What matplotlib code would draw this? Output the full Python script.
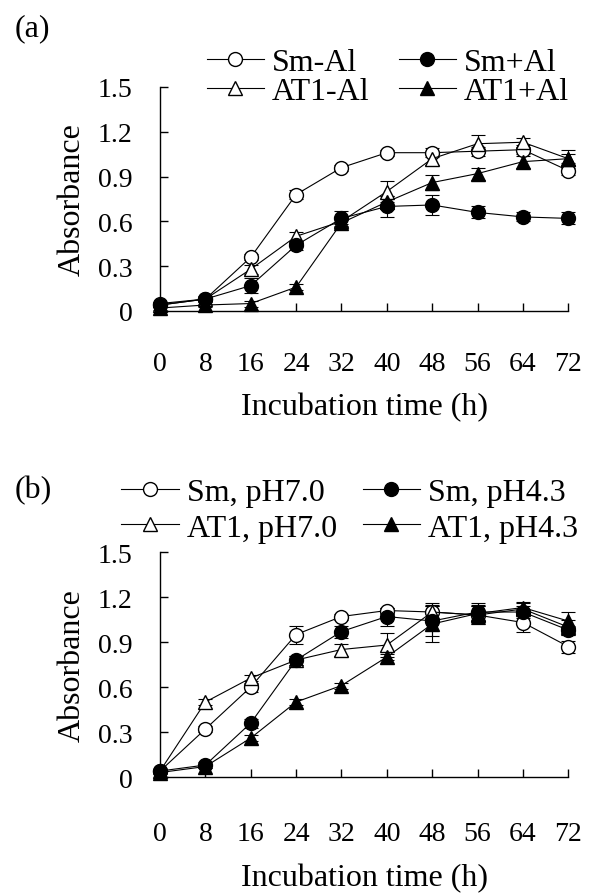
import matplotlib
matplotlib.use("Agg")
import matplotlib.pyplot as plt

plt.rcParams['font.family'] = ['Liberation Serif', 'DejaVu Serif']
plt.rcParams['font.size'] = 23

t = [0, 8, 16, 24, 32, 40, 48, 56, 64, 72]

# panel (a)
sm_noal = [0.05, 0.08, 0.36, 0.78, 0.96, 1.06, 1.06, 1.07, 1.08, 0.94]
sm_noal_e = [0.01, 0.01, 0.02, 0.03, 0.02, 0.02, 0.03, 0.03, 0.03, 0.03]
sm_al = [0.04, 0.08, 0.17, 0.44, 0.62, 0.70, 0.71, 0.66, 0.63, 0.62]
sm_al_e = [0.01, 0.02, 0.05, 0.03, 0.05, 0.07, 0.07, 0.04, 0.03, 0.04]
at1_noal = [0.04, 0.08, 0.28, 0.50, 0.60, 0.80, 1.02, 1.12, 1.13, 1.02]
at1_noal_e = [0.01, 0.01, 0.03, 0.03, 0.02, 0.07, 0.04, 0.06, 0.03, 0.03]
at1_al = [0.02, 0.04, 0.05, 0.16, 0.59, 0.73, 0.86, 0.92, 1.00, 1.02]
at1_al_e = [0.01, 0.01, 0.02, 0.02, 0.03, 0.04, 0.05, 0.04, 0.04, 0.06]

# panel (b)
sm_70 = [0.04, 0.32, 0.60, 0.95, 1.07, 1.11, 1.10, 1.08, 1.03, 0.87]
sm_70_e = [0.01, 0.02, 0.03, 0.06, 0.02, 0.02, 0.06, 0.06, 0.06, 0.04]
sm_43 = [0.04, 0.08, 0.36, 0.78, 0.97, 1.07, 1.04, 1.10, 1.10, 0.98]
sm_43_e = [0.01, 0.02, 0.03, 0.03, 0.04, 0.06, 0.10, 0.06, 0.04, 0.03]
at1_70 = [0.04, 0.50, 0.66, 0.78, 0.85, 0.88, 1.10, 1.08, 1.12, 1.00]
at1_70_e = [0.01, 0.02, 0.02, 0.03, 0.04, 0.08, 0.05, 0.06, 0.04, 0.05]
at1_43 = [0.03, 0.07, 0.26, 0.50, 0.61, 0.80, 1.02, 1.09, 1.13, 1.04]
at1_43_e = [0.01, 0.01, 0.02, 0.02, 0.02, 0.02, 0.12, 0.06, 0.04, 0.06]

yticks = [0, 0.3, 0.6, 0.9, 1.2, 1.5]
yticklabels = ['0', '0.3', '0.6', '0.9', '1.2', '1.5']

fig = plt.figure(figsize=(5.95, 8.95), dpi=100)
ax1 = fig.add_axes([0.269, 0.6514, 0.686, 0.2503])
ax2 = fig.add_axes([0.269, 0.1307, 0.686, 0.2514])


def serie(ax, y, e, mk, fc, lab):
    c = ax.errorbar(t, y, yerr=e, color='black', marker=mk, mfc=fc, mec='black',
                    ms=10, lw=0.8, elinewidth=0.8, capsize=5, capthick=0.8,
                    clip_on=False)
    # solo la linea con marcador para la leyenda
    c[0].set_label(lab)
    return c[0]


h1 = [serie(ax1, sm_noal, sm_noal_e, 'o', 'white', 'Sm-Al'),
      serie(ax1, at1_noal, at1_noal_e, '^', 'white', 'AT1-Al'),
      serie(ax1, sm_al, sm_al_e, 'o', 'black', 'Sm+Al'),
      serie(ax1, at1_al, at1_al_e, '^', 'black', 'AT1+Al')]

h2 = [serie(ax2, sm_70, sm_70_e, 'o', 'white', 'Sm, pH7.0'),
      serie(ax2, at1_70, at1_70_e, '^', 'white', 'AT1, pH7.0'),
      serie(ax2, sm_43, sm_43_e, 'o', 'black', 'Sm, pH4.3'),
      serie(ax2, at1_43, at1_43_e, '^', 'black', 'AT1, pH4.3')]

for ax, xpad, lpad in [(ax1, 29, 11), (ax2, 32, 12)]:
    ax.set_xlim(0, 72)
    ax.set_ylim(0, 1.5)
    ax.set_xticks(t)
    ax.set_yticks(yticks)
    ax.set_yticklabels(yticklabels)
    ax.spines['top'].set_visible(False)
    ax.spines['right'].set_visible(False)
    ax.spines['left'].set_linewidth(1.0)
    ax.spines['bottom'].set_linewidth(1.0)
    ax.tick_params(axis='both', direction='in', length=6, width=1.0,
                   labelsize=20)
    ax.tick_params(axis='x', pad=xpad)
    ax.tick_params(axis='y', pad=20)
    ax.set_ylabel('Absorbance', labelpad=8)
    ax.set_xlabel('Incubation time (h)', labelpad=lpad)

ax1.legend(handles=h1, ncol=2, loc='center', bbox_to_anchor=(0.652, 0.913),
           bbox_transform=fig.transFigure, frameon=False, handlelength=1.8,
           handletextpad=0.25, columnspacing=0.9, labelspacing=0.0,
           borderpad=0, borderaxespad=0)
ax2.legend(handles=h2, ncol=2, loc='center', bbox_to_anchor=(0.588, 0.429),
           bbox_transform=fig.transFigure, frameon=False, handlelength=1.8,
           handletextpad=0.25, columnspacing=0.8, labelspacing=0.2,
           borderpad=0, borderaxespad=0)

fig.text(0.025, 0.968, '(a)', fontsize=23, va='center')
fig.text(0.025, 0.452, '(b)', fontsize=23, va='center')

fig.savefig('out.png', dpi=100)
